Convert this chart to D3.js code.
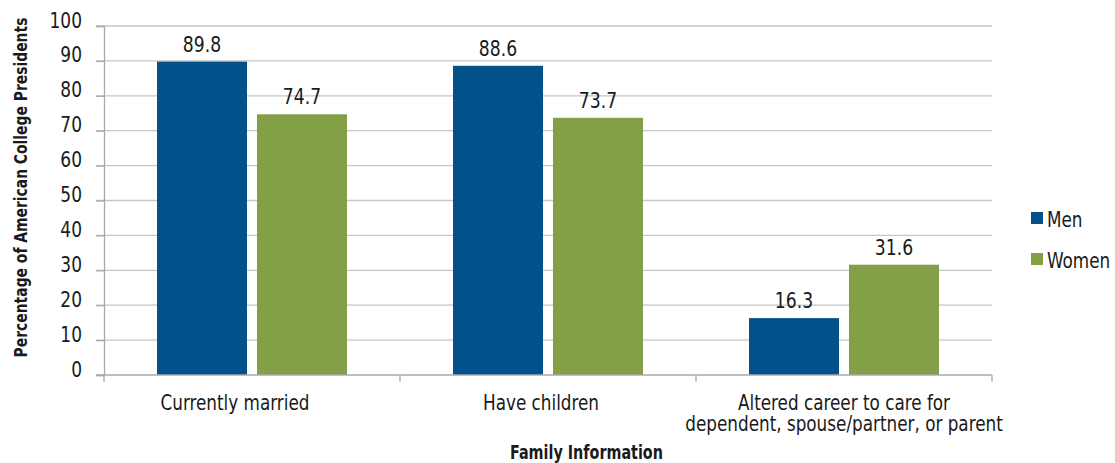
<!DOCTYPE html>
<html>
<head>
<meta charset="utf-8">
<script src="https://cdn.jsdelivr.net/npm/d3@7"></script>
<style>
  html, body { margin: 0; padding: 0; background: #fff; }
  svg { display: block; }
  text { font-family: "DejaVu Sans Condensed", "DejaVu Sans", sans-serif; fill: #1a1a1a; }
</style>
</head>
<body>
<svg id="chart" width="1115" height="463"></svg>
<script>
const categories = ["Currently married", "Have children", "Altered career to care for\ndependent, spouse/partner, or parent"];
const seriesNames = ["Men", "Women"];
const men = [89.8, 88.6, 16.3];
const women = [74.7, 73.7, 31.6];
const yTicks = [0, 10, 20, 30, 40, 50, 60, 70, 80, 90, 100];
const colors = ["#02518a", "#83a046"];

(function () {
const svg = d3.select("#chart");
const pl = 104, pr = 992, pt = 26, pb = 375;
const FONT = '"DejaVu Sans Condensed", "DejaVu Sans", sans-serif';

// horizontally condense a text element around its anchor point
function squeeze(sel, s) {
  sel.each(function () {
    const el = d3.select(this);
    const x = +el.attr("x") || 0;
    const prev = el.attr("transform") || "";
    el.attr("transform", `${prev} translate(${x},0) scale(${s},1) translate(${-x},0)`);
  });
}

const x0 = d3.scaleBand().domain(categories).range([pl, pr]).paddingInner(0).paddingOuter(0);
const x1 = d3.scaleBand().domain(seriesNames).range([0, x0.bandwidth()]).paddingInner(0.1).paddingOuter(0.53);
const y = d3.scaleLinear().domain([0, 100]).range([pb, pt]);

// gridlines
svg.append("g").selectAll("line").data(yTicks.filter(d => d > 0)).join("line")
  .attr("x1", pl - 8).attr("x2", pr)
  .attr("y1", d => y(d)).attr("y2", d => y(d))
  .attr("stroke", "#c6c6c6").attr("stroke-width", 1.3);

// y axis
const yAxis = svg.append("g").attr("transform", `translate(${pl},0)`)
  .call(d3.axisLeft(y).tickValues(yTicks).tickSize(8).tickPadding(14));
yAxis.select(".domain").attr("stroke", "#aaaaaa").attr("stroke-width", 1.3);
yAxis.selectAll(".tick line").attr("stroke", "#aaaaaa").attr("stroke-width", 1.3);
const yt = yAxis.selectAll(".tick text").attr("font-size", 22)
  .attr("y", -6).attr("fill", "#1a1a1a").style("font-family", FONT);
squeeze(yt, 0.86);

// bars
const data = categories.map((c, i) => ({ c, vals: [men[i], women[i]] }));
const groups = svg.append("g").selectAll("g").data(data).join("g")
  .attr("transform", d => `translate(${x0(d.c)},0)`);
groups.selectAll("rect").data(d => d.vals.map((v, j) => ({ s: seriesNames[j], v, j }))).join("rect")
  .attr("x", d => x1(d.s)).attr("width", x1.bandwidth())
  .attr("y", d => y(d.v)).attr("height", d => y(0) - y(d.v))
  .attr("fill", d => colors[d.j]);
const vl = groups.selectAll("text.val").data(d => d.vals.map((v, j) => ({ s: seriesNames[j], v, j }))).join("text")
  .attr("class", "val")
  .attr("x", d => x1(d.s) + x1.bandwidth() / 2)
  .attr("y", d => y(d.v) - 10)
  .attr("text-anchor", "middle").attr("font-size", 22)
  .text(d => d.v.toFixed(1));
squeeze(vl, 0.87);

// x axis
const xAxisG = svg.append("g");
xAxisG.append("line").attr("x1", pl - 8).attr("x2", pr).attr("y1", pb).attr("y2", pb)
  .attr("stroke", "#aaaaaa").attr("stroke-width", 1.3);
const bounds = categories.map(c => x0(c)).concat([pr]);
xAxisG.selectAll("line.tk").data(bounds).join("line").attr("class", "tk")
  .attr("x1", d => d).attr("x2", d => d).attr("y1", pb).attr("y2", pb + 7)
  .attr("stroke", "#aaaaaa").attr("stroke-width", 1.3);

const labelShift = [-17, -7, 0];
categories.forEach((c, i) => {
  const lines = c.split("\n");
  const cx = x0(c) + x0.bandwidth() / 2 + labelShift[i];
  lines.forEach((ln, k) => {
    const t = svg.append("text").attr("text-anchor", "middle").attr("font-size", 22)
      .attr("x", cx).attr("y", 410 + k * 21).text(ln);
    squeeze(t, 0.85);
  });
});

// axis titles (condensed to the reference widths)
const xt = svg.append("text").attr("x", 0).attr("y", 0)
  .attr("text-anchor", "middle").attr("font-size", 20).attr("font-weight", "bold")
  .text("Family Information");
const xs = 153 / xt.node().getComputedTextLength();
xt.attr("transform", `translate(586.5,459) scale(${xs},1)`);

const ytl = svg.append("text").attr("x", 0).attr("y", 0)
  .attr("text-anchor", "middle").attr("font-size", 18).attr("font-weight", "bold")
  .text("Percentage of American College Presidents");
const ys = 340 / ytl.node().getComputedTextLength();
ytl.attr("transform", `translate(27,187.5) rotate(-90) scale(${ys},1)`);

// legend
const lg = svg.append("g").selectAll("g").data(seriesNames).join("g")
  .attr("transform", (d, i) => `translate(1031,${212 + i * 41})`);
lg.append("rect").attr("width", 12).attr("height", 12).attr("fill", (d, i) => colors[i]);
const lt = lg.append("text").attr("x", 16).attr("y", 15).attr("font-size", 22).text(d => d);
squeeze(lt, 0.85);
})();
</script>
</body>
</html>
